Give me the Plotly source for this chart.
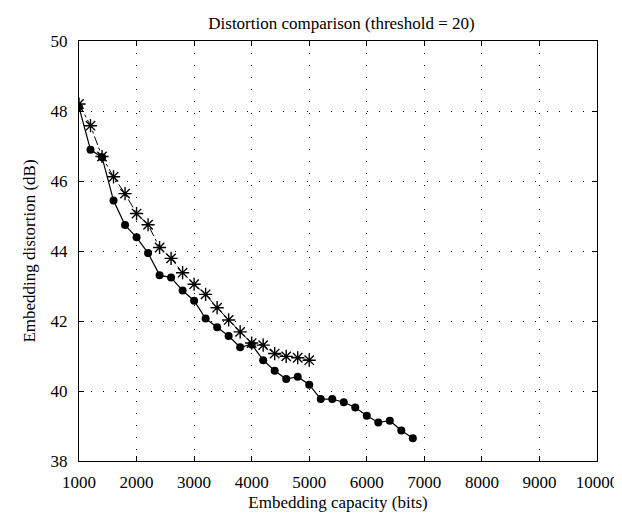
import plotly.graph_objects as go

# Data
cap_circle = [1000, 1200, 1400, 1600, 1800, 2000, 2200, 2400, 2600, 2800,
              3000, 3200, 3400, 3600, 3800, 4000, 4200, 4400, 4600, 4800,
              5000, 5200, 5400, 5600, 5800, 6000, 6200, 6400, 6600, 6800]
dist_circle = [48.11, 46.89, 46.68, 45.44, 44.74, 44.39, 43.94, 43.31, 43.24, 42.87,
               42.58, 42.07, 41.82, 41.57, 41.25, 41.33, 40.88, 40.58, 40.34, 40.41,
               40.18, 39.77, 39.77, 39.68, 39.53, 39.29, 39.10, 39.15, 38.87, 38.65]

cap_star = [1000, 1200, 1400, 1600, 1800, 2000, 2200, 2400, 2600, 2800,
            3000, 3200, 3400, 3600, 3800, 4000, 4200, 4400, 4600, 4800, 5000]
dist_star = [48.20, 47.58, 46.70, 46.12, 45.64, 45.07, 44.75, 44.10, 43.79, 43.38,
             43.05, 42.76, 42.38, 42.03, 41.69, 41.37, 41.31, 41.07, 40.99, 40.95, 40.88]

x_ticks = [1000, 2000, 3000, 4000, 5000, 6000, 7000, 8000, 9000, 10000]
x_tick_labels = [str(v) for v in x_ticks]
y_ticks = [38, 40, 42, 44, 46, 48, 50]
y_tick_labels = [str(v) for v in y_ticks]

FONT = "Liberation Serif"
FS = 17

fig = go.Figure()
fig.add_trace(go.Scatter(
    x=cap_star, y=dist_star, mode="lines+markers",
    line=dict(color="black", width=1, dash="dashdot"),
    marker=dict(symbol="asterisk-open", size=11, line=dict(color="black", width=1.4)),
    showlegend=False))
fig.add_trace(go.Scatter(
    x=cap_circle, y=dist_circle, mode="lines+markers",
    line=dict(color="black", width=1.2),
    marker=dict(symbol="circle", size=8, color="black"),
    showlegend=False))

axis_common = dict(
    showline=True, linecolor="black", linewidth=1, mirror="ticks",
    ticks="inside", ticklen=5, tickcolor="black",
    showgrid=True, gridcolor="black", gridwidth=1, griddash="1px,11px",
    zeroline=False, tickfont=dict(family=FONT, size=FS, color="black"),
)

fig.update_layout(
    width=622, height=516,
    margin=dict(l=71, r=26, t=33, b=63),
    paper_bgcolor="white", plot_bgcolor="white",
    font=dict(family=FONT, size=FS, color="black"),
    title=dict(text="Distortion comparison (threshold = 20)", x=(71 + 596) / 2 / 622,
               xanchor="center", y=1 - 15 / 516, yanchor="middle", yref="container",
               font=dict(family=FONT, size=FS, color="black")),
    xaxis=dict(range=[1000, 10000], tickvals=x_ticks, ticktext=x_tick_labels,
               ticklabelstandoff=6,
               title=dict(text="Embedding capacity (bits)", standoff=4,
                          font=dict(family=FONT, size=FS)),
               **axis_common),
    yaxis=dict(range=[38, 50], tickvals=y_ticks, ticktext=y_tick_labels,
               ticklabelstandoff=7,
               title=dict(text="Embedding distortion (dB)", standoff=10,
                          font=dict(family=FONT, size=FS)),
               **axis_common),
)

fig.write_html("out.html")
